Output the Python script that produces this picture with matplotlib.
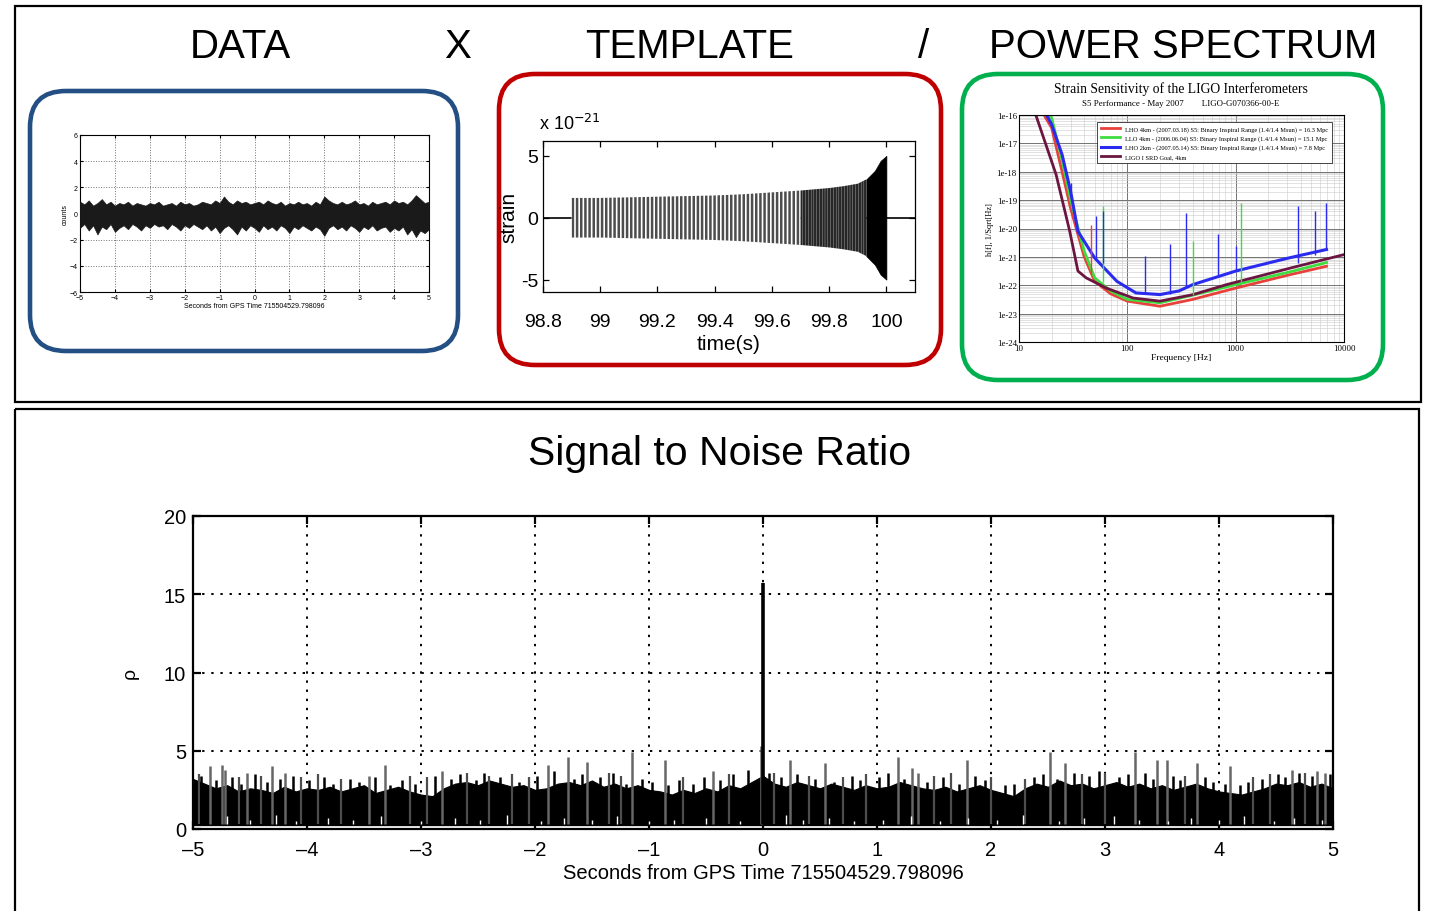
import numpy as np
import matplotlib
matplotlib.use("Agg")
import matplotlib.pyplot as plt
from matplotlib.patches import FancyBboxPatch, Rectangle

plt.rcParams['font.family'] = ['Liberation Sans', 'DejaVu Sans']
plt.rcParams['hatch.linewidth'] = 1.8

W, H = 1430, 912

# ---- data panel (raw strain counts, envelope, every 0.125 s)
data_upper = [0.9, 0.7, 1.0, 0.6, 0.8, 1.1, 0.7, 0.9, 0.6, 0.8,
              0.7, 0.9, 0.6, 0.8, 0.7, 0.6, 0.8, 0.7, 0.9, 0.6,
              0.7, 0.8, 0.6, 0.9, 0.7, 0.8, 0.6, 0.7, 0.9, 0.8,
              0.7, 1.0, 0.8, 1.3, 0.9, 0.7, 1.0, 0.8, 0.9, 0.7,
              0.8, 0.9, 0.7, 1.0, 0.8, 0.7, 0.9, 0.6, 0.8, 0.7,
              0.9, 0.7, 0.8, 0.6, 0.9, 0.7, 1.3, 1.0, 0.8, 0.7,
              0.9, 0.7, 0.8, 1.0, 0.7, 0.8, 0.6, 0.9, 0.7, 0.8,
              0.9, 0.7, 1.0, 0.8, 0.9, 0.7, 1.0, 1.4, 1.1, 0.8, 0.9]
data_lower = [-1.1, -0.8, -1.3, -0.9, -1.6, -1.0, -1.2, -0.8, -1.4, -1.1,
              -0.9, -1.2, -0.8, -1.0, -1.3, -0.9, -1.1, -0.8, -1.0, -0.9,
              -1.2, -0.8, -1.0, -1.3, -0.9, -1.1, -0.8, -1.0, -1.2, -0.9,
              -1.3, -1.0, -1.5, -1.1, -0.9, -1.2, -1.6, -1.0, -1.3, -0.9,
              -1.1, -1.4, -0.9, -1.2, -1.0, -1.3, -0.9, -1.1, -1.5, -1.0,
              -1.2, -0.9, -1.1, -1.3, -1.0, -1.2, -1.7, -1.1, -0.9, -1.2,
              -1.0, -1.3, -0.9, -1.1, -1.4, -1.0, -1.2, -0.9, -1.3, -1.1,
              -1.0, -1.4, -1.1, -1.3, -1.0, -1.6, -1.2, -1.8, -1.3, -1.5, -1.2]
data_ticks_x = [-5, -4, -3, -2, -1, 0, 1, 2, 3, 4, 5]
data_ticks_y = [-6, -4, -2, 0, 2, 4, 6]

# ---- template (chirp envelope, units of 1e-21)
chirp_t = [98.9, 99.0, 99.1, 99.2, 99.3, 99.4, 99.5, 99.6, 99.7, 99.8, 99.85, 99.9, 99.93, 99.96, 99.98, 100.0]
chirp_amp = [1.6, 1.6, 1.65, 1.7, 1.75, 1.8, 1.9, 2.05, 2.2, 2.4, 2.55, 2.75, 3.1, 3.8, 4.6, 5.0]
tmpl_xticks = [98.8, 99.0, 99.2, 99.4, 99.6, 99.8, 100.0]
tmpl_xlabels = ['98.8', '99', '99.2', '99.4', '99.6', '99.8', '100']

# ---- power spectrum (log10 of strain ASD)
srd_f = [14.3, 22, 29.4, 35, 41.7, 64, 113, 200, 404, 820, 3390, 10000]
srd_h = [-16.0, -18.1, -20.1, -21.5, -21.74, -22.1, -22.45, -22.56, -22.33, -21.98, -21.37, -20.92]
red_f = [17, 20, 25, 30, 40, 50, 70, 100, 200, 400, 1000, 3000, 6900]
red_h = [-16.0, -16.45, -18.0, -19.3, -21.0, -21.86, -22.3, -22.56, -22.74, -22.5, -22.1, -21.65, -21.33]
green_f = [19, 20, 25, 30, 40, 50, 70, 100, 200, 400, 1000, 3000, 6900]
green_h = [-16.0, -16.1, -17.6, -19.0, -20.8, -21.74, -22.2, -22.5, -22.62, -22.35, -21.98, -21.55, -21.2]
blue_f = [18, 20, 25, 30, 35, 50, 80, 120, 200, 300, 400, 1000, 3000, 6900]
blue_h = [-16.0, -16.33, -17.4, -18.7, -20.1, -21.04, -21.86, -22.27, -22.33, -22.2, -21.98, -21.5, -21.05, -20.74]
blue_spk_f = [30, 51.8, 59.6, 145, 246, 351, 687, 1014, 3760, 5380, 6870]
blue_spk_base = [-18.7, -21.04, -21.2, -22.27, -22.3, -22.1, -21.7, -21.5, -21.2, -20.95, -20.75]
blue_spk_top = [-18.4, -19.56, -19.39, -20.98, -20.56, -19.45, -20.2, -20.6, -19.2, -19.39, -19.1]
green_spk_f = [59.6, 404, 1120]
green_spk_base = [-21.9, -22.35, -21.95]
green_spk_top = [-19.2, -20.45, -19.1]
red_spk_f = [46.5]
red_spk_base = [-21.6]
red_spk_top = [-19.86]
psd_labels = ['LHO 4km - (2007.03.18) S5: Binary Inspiral Range (1.4/1.4 Msun) = 16.3 Mpc',
              'LLO 4km - (2006.06.04) S5: Binary Inspiral Range (1.4/1.4 Msun) = 15.1 Mpc',
              'LHO 2km - (2007.05.14) S5: Binary Inspiral Range (1.4/1.4 Msun) = 7.8 Mpc',
              'LIGO I SRD Goal, 4km']
psd_yticks = [-24, -23, -22, -21, -20, -19, -18, -17, -16]

# ---- signal to noise ratio
snr_core = [3.2, 2.9, 2.6, 2.8, 2.4, 2.6, 2.5, 2.3, 2.7, 2.4, 2.6,
            2.5, 2.7, 2.4, 2.6, 2.8, 2.3, 2.5, 2.7, 2.4, 2.2,
            2.1, 2.6, 2.9, 3.0, 2.8, 3.1, 2.9, 2.7, 2.8, 2.5,
            2.6, 2.9, 3.0, 2.8, 3.1, 2.7, 2.9, 2.6, 2.8, 2.5,
            2.4, 2.2, 2.5, 2.3, 2.6, 2.4, 2.8, 2.6, 3.0, 3.4,
            2.9, 2.7, 3.0, 2.8, 2.6, 2.9, 2.7, 2.5, 2.8, 2.6,
            2.7, 3.0, 2.8, 2.6, 2.5, 2.7, 2.4, 2.6, 2.8, 2.5,
            2.3, 2.1, 2.6, 2.9, 2.7, 3.1, 2.8, 2.9, 2.6, 2.8,
            3.0, 2.7, 2.9, 2.6, 2.8, 2.5, 2.7, 2.9, 2.6, 2.4,
            2.3, 2.2, 2.4, 2.6, 2.9, 2.8, 3.0, 2.7, 2.9, 2.6]
snr_black_t = [-4.93, -4.8, -4.66, -4.58, -4.46, -4.35, -4.24, -4.12, -3.98, -3.85,
               -3.77, -3.62, -3.54, -3.4, -3.27, -3.17, -3.05, -2.88, -2.74, -2.66,
               -2.52, -2.45, -2.31, -2.14, -1.98, -1.83, -1.66, -1.59, -1.43, -1.32,
               -1.2, -1.06, -0.97, -0.83, -0.74, -0.61, -0.52, -0.38, -0.26, -0.13,
               0.05, 0.16, 0.3, 0.46, 0.62, 0.78, 0.85, 1.02, 1.1, 1.24,
               1.44, 1.58, 1.72, 1.86, 1.95, 2.12, 2.2, 2.38, 2.46, 2.58,
               2.73, 2.86, 2.95, 3.12, 3.2, 3.35, 3.42, 3.6, 3.66, 3.88,
               3.95, 4.05, 4.18, 4.25, 4.38, 4.52, 4.58, 4.7, 4.82, 4.97]
snr_black_h = [3.4, 3.1, 3.3, 2.9, 3.5, 3.0, 3.2, 3.4, 3.1, 3.3,
               2.9, 3.2, 3.0, 3.3, 2.8, 3.1, 2.9, 3.4, 3.2, 3.5,
               3.1, 3.6, 3.3, 3.0, 3.4, 3.7, 3.2, 3.5, 3.3, 3.6,
               2.9, 3.2, 3.0, 2.8, 3.1, 2.9, 3.3, 3.1, 3.5, 3.8,
               3.6, 3.3, 3.5, 3.2, 3.0, 3.4, 3.1, 3.3, 3.6, 3.2,
               3.0, 3.3, 2.9, 3.4, 3.1, 2.8, 2.9, 3.3, 3.5, 3.2,
               3.6, 3.4, 3.7, 3.3, 3.5, 3.6, 3.2, 3.4, 3.1, 3.3,
               3.0, 2.9, 2.8, 3.0, 3.2, 3.5, 3.3, 3.6, 3.4, 3.5]
snr_spike_t = [-4.85, -4.75, -4.72, -4.53, -4.31, -4.19, -3.46, -3.32, -2.82, -1.89, -1.71, -1.54, -1.15, -0.86,
               -0.44, -0.02, 0.24, 0.54, 1.18, 1.31, 1.36, 1.79, 2.52, 2.65, 3.26, 3.46, 3.54, 3.81, 4.10, 4.64,
               4.86, 4.93]
snr_spike_h = [4.0, 4.1, 3.8, 3.6, 4.0, 3.6, 3.4, 4.1, 3.7, 4.1, 4.6, 4.3, 4.9, 4.4, 3.7, 5.3, 4.4, 4.2, 4.6, 3.9,
               3.6, 4.4, 4.9, 4.2, 4.9, 4.4, 4.4, 4.2, 4.0, 3.8, 3.7, 3.6]
snr_small_t = [-4.95, -4.6, -4.4, -4.05, -3.9, -3.7, -3.1, -2.95, -2.6, -2.4, -2.2, -2.05, -1.35, -1.25, -0.7,
               -0.3, 0.1, 0.4, 0.7, 0.9, 1.5, 1.65, 2.0, 2.3, 2.8, 3.0, 3.7, 4.3, 4.45, 4.75]
snr_small_h = [3.5, 3.3, 3.4, 3.3, 3.5, 3.2, 3.4, 3.3, 3.6, 3.4, 3.5, 3.3, 3.6, 3.4, 3.3,
               3.5, 3.6, 3.4, 3.3, 3.5, 3.4, 3.6, 3.3, 3.2, 3.5, 3.6, 3.4, 3.3, 3.5, 3.6]
# white gaps near the floor of the SNR trace
snr_gap_t = [-4.7, -4.5, -4.27, -4.1, -3.82, -3.6, -3.35, -3.0, -2.7, -2.48, -2.25, -1.95, -1.75, -1.5, -1.28,
             -1.0, -0.78, -0.5, -0.2, 0.2, 0.35, 0.58, 0.8, 1.05, 1.3, 1.55, 1.8, 2.05, 2.28, 2.6, 2.82,
             3.08, 3.3, 3.55, 3.75, 4.0, 4.22, 4.48, 4.66, 4.9]
snr_gap_h = [0.8, 0.6, 0.9, 0.5, 0.7, 0.6, 0.8, 0.5, 0.7, 0.6, 0.9, 0.5, 0.7, 0.6, 0.8, 0.5, 0.6, 0.7, 0.5, 0.9,
             0.6, 0.7, 0.5, 0.6, 0.8, 0.5, 0.7, 0.6, 0.9, 0.5, 0.7, 0.8, 0.6, 0.5, 0.7, 0.6, 0.8, 0.5, 0.7, 0.6]
snr_peak_t = [0.0]
snr_peak_h = [15.7]
snr_xticks = [-5, -4, -3, -2, -1, 0, 1, 2, 3, 4, 5]
snr_yticks = [0, 5, 10, 15, 20]


def px_axes(l, t, r, b):
    return fig.add_axes([l / W, 1 - b / H, (r - l) / W, (b - t) / H])


def matlab_style(ax, size, lw=1.0, tl=4):
    ax.tick_params(direction='in', top=True, right=True, labelsize=size, length=tl, width=lw)
    for s in ax.spines.values():
        s.set_linewidth(lw)


fig = plt.figure(figsize=(W / 100, H / 100), dpi=100)

# background: frames, rounded boxes, headings
bg = fig.add_axes([0, 0, 1, 1])
bg.set_xlim(0, W)
bg.set_ylim(H, 0)
bg.axis('off')
bg.add_patch(Rectangle((15, 7), 1406, 396, fill=False, lw=1.6, ec='black'))
bg.add_patch(Rectangle((15, 410), 1404, 540, fill=False, lw=1.6, ec='black'))
for (x0, y0, x1, y1), c in [((30, 92, 458, 352), '#234f84'),
                            ((499, 75, 941, 366), '#c00000'),
                            ((962, 75, 1383, 381), '#00b04f')]:
    bg.add_patch(FancyBboxPatch((x0, y0), x1 - x0, y1 - y0, boxstyle='round,pad=0,rounding_size=36',
                                fill=False, ec=c, lw=3.3))
for txt, x in [('DATA', 240), ('X', 458), ('TEMPLATE', 690), ('/', 924), ('POWER SPECTRUM', 1183)]:
    bg.text(x, 47, txt, fontsize=29, ha='center', va='center')
bg.text(720, 454, 'Signal to Noise Ratio', fontsize=29.5, ha='center', va='center')

# DATA
ax1 = px_axes(80, 136, 429, 293)
tx = np.linspace(-5, 5, len(data_upper))
ax1.fill_between(tx, data_lower, data_upper, color='0.1', lw=0.5, zorder=3)
ax1.set_xlim(-5, 5)
ax1.set_ylim(-6, 6)
ax1.set_xticks(data_ticks_x)
ax1.set_yticks(data_ticks_y)
ax1.grid(True, ls=':', color='0.45', lw=0.7)
matlab_style(ax1, 5, lw=0.8, tl=2)
ax1.tick_params(pad=1.5)
ax1.set_xlabel('Seconds from GPS Time 715504529.798096', fontsize=5, labelpad=1)
ax1.set_ylabel('counts', fontsize=5, labelpad=1)

# TEMPLATE
ax2 = px_axes(543, 142, 915, 293)
ax2.axhline(0, color='black', lw=1.2, zorder=1)
amp = np.array(chirp_amp)
i1, i2 = chirp_t.index(99.7), chirp_t.index(99.93)
ax2.fill_between(chirp_t[:i1 + 1], -amp[:i1 + 1], amp[:i1 + 1], facecolor='white', edgecolor='0.3',
                 hatch='||||', lw=0, zorder=2)
ax2.fill_between(chirp_t[i1:i2 + 1], -amp[i1:i2 + 1], amp[i1:i2 + 1], facecolor='white', edgecolor='0.15',
                 hatch='||||||', lw=0, zorder=2)
ax2.fill_between(chirp_t[i2:], -amp[i2:], amp[i2:], color='black', lw=0.5, zorder=2)
ax2.set_xlim(98.8, 100.1)
ax2.set_ylim(-6, 6.2)
ax2.set_xticks(tmpl_xticks)
ax2.set_xticklabels(tmpl_xlabels)
ax2.set_yticks([-5, 0, 5])
ax2.set_yticklabels(['-5', '0', '5'])
matlab_style(ax2, 14, lw=0.9, tl=4)
ax2.tick_params(axis='x', pad=15)
ax2.set_xlabel('time(s)', fontsize=15, labelpad=3)
ax2.set_ylabel('strain', fontsize=15, labelpad=2)
ax2.text(-0.01, 1.05, r'x 10$^{-21}$', transform=ax2.transAxes, fontsize=13, ha='left', va='bottom')

# POWER SPECTRUM
ax3 = px_axes(1019, 116, 1344, 343)
serif = ['Liberation Serif', 'DejaVu Serif']
for f, h, c, lw, lab in [(red_f, red_h, '#e8403a', 2.0, psd_labels[0]),
                         (green_f, green_h, '#3fdc3f', 2.0, psd_labels[1]),
                         (blue_f, blue_h, '#2b2bf0', 2.2, psd_labels[2]),
                         (srd_f, srd_h, '#6b1540', 2.0, psd_labels[3])]:
    ax3.plot(f, 10.0 ** np.array(h), color=c, lw=lw, label=lab)
for f, b, t, c in [(red_spk_f, red_spk_base, red_spk_top, '#e8403a'),
                   (green_spk_f, green_spk_base, green_spk_top, '#3fdc3f'),
                   (blue_spk_f, blue_spk_base, blue_spk_top, '#2b2bf0')]:
    ax3.vlines(f, 10.0 ** np.array(b), 10.0 ** np.array(t), color=c, lw=1.0)
ax3.set_xscale('log')
ax3.set_yscale('log')
ax3.set_xlim(10, 10000)
ax3.set_ylim(1e-24, 1e-16)
ax3.grid(True, which='major', color='0.45', lw=0.7)
ax3.grid(True, which='minor', color='0.8', lw=0.4)
ax3.set_yticks([10.0 ** p for p in psd_yticks])
ax3.set_yticklabels(['1e%d' % p for p in psd_yticks])
ax3.set_xticks([10, 100, 1000, 10000])
ax3.set_xticklabels(['10', '100', '1000', '10000'])
ax3.tick_params(labelsize=6.3, length=0, pad=1.5)
ax3.tick_params(which='minor', length=0)
for lab in ax3.get_xticklabels() + ax3.get_yticklabels():
    lab.set_fontfamily(serif)
for s in ax3.spines.values():
    s.set_linewidth(0.8)
ax3.set_xlabel('Frequency [Hz]', fontsize=6.8, family=serif, labelpad=1)
ax3.set_ylabel('h[f], 1/Sqrt[Hz]', fontsize=6, family=serif, labelpad=2)
leg = ax3.legend(loc='upper right', bbox_to_anchor=(0.963, 0.969), borderaxespad=0,
                 prop={'family': serif, 'size': 4.6}, fancybox=False, edgecolor='black', framealpha=1,
                 handlelength=3, labelspacing=0.55, borderpad=0.6)
leg.get_frame().set_linewidth(0.5)
bg.text(1181, 89, 'Strain Sensitivity of the LIGO Interferometers', fontsize=9.8, ha='center', va='center',
        family=serif)
bg.text(1181, 104, 'S5 Performance - May 2007        LIGO-G070366-00-E', fontsize=6.4, ha='center',
        va='center', family=serif)

# SIGNAL TO NOISE RATIO
ax4 = px_axes(193, 517, 1333, 830)
ts = np.linspace(-5, 5, len(snr_core))
ax4.fill_between(ts, 0.25, snr_core, color='black', lw=0.8, zorder=3)
ax4.vlines(snr_small_t, 0.3, snr_small_h, color='0.3', lw=1.6, zorder=3)
ax4.vlines(snr_spike_t, 0.3, snr_spike_h, color='0.4', lw=1.8, zorder=3)
ax4.vlines(snr_black_t, 0.3, snr_black_h, color='black', lw=1.8, zorder=3)
ax4.vlines(snr_gap_t, 0.3, snr_gap_h, color='white', lw=1.0, zorder=3.5)
ax4.vlines(snr_peak_t, 0.3, snr_peak_h, color='black', lw=2.6, zorder=4)
ax4.set_xlim(-5, 5)
ax4.set_ylim(0, 20)
ax4.set_xticks(snr_xticks)
ax4.set_yticks(snr_yticks)
ax4.set_xticklabels(['\u2013%d' % -v if v < 0 else '%d' % v for v in snr_xticks])
ax4.grid(True, ls=(0, (1.2, 3.5)), color='black', lw=1.4, zorder=1)
matlab_style(ax4, 14.5, lw=1.6, tl=6)
ax4.tick_params(axis='x', pad=8)
ax4.tick_params(axis='y', pad=5)
ax4.set_xlabel('Seconds from GPS Time 715504529.798096', fontsize=14.5, labelpad=3)
ax4.set_ylabel('\u03c1', fontsize=14, labelpad=18)

fig.savefig('out.png', dpi=100)
